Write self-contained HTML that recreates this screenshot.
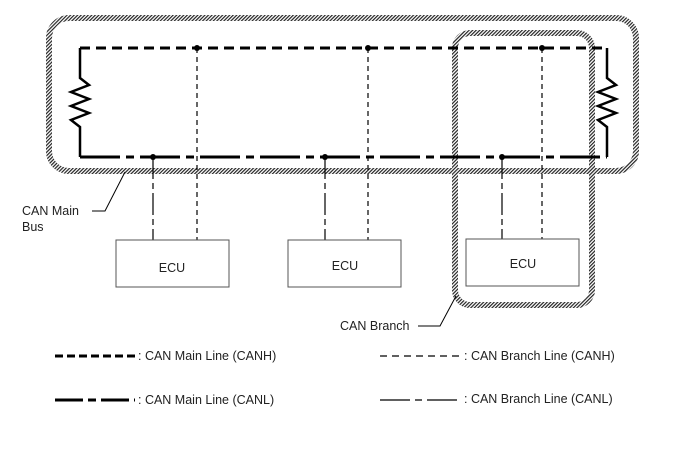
<!DOCTYPE html>
<html><head><style>body{margin:0;background:#fff}svg{display:block}</style></head><body>
<svg width="688" height="463" xmlns="http://www.w3.org/2000/svg" font-family="Liberation Sans, Arial, sans-serif" font-size="12.5">
<defs>
<pattern id="h" width="2.5" height="2.5" patternUnits="userSpaceOnUse" patternTransform="rotate(45)">
<rect width="2.5" height="2.5" fill="#fff"/><rect width="1.2" height="2.5" fill="#222"/>
</pattern>
</defs>
<rect x="49" y="18" width="587" height="153" rx="20" fill="none" stroke="url(#h)" stroke-width="6"/>
<rect x="455" y="33" width="137" height="272" rx="15" fill="none" stroke="url(#h)" stroke-width="6"/>
<g stroke="#000" fill="none">
<line x1="80" y1="48" x2="607" y2="48" stroke-width="3" stroke-dasharray="10,6"/>
<line x1="80" y1="157" x2="607" y2="157" stroke-width="3" stroke-dasharray="40,6,8,6"/>
<polyline stroke-width="2.5" points="80,48 80,78 89,85 71,92 89,99 71,106 89,113 71,120 80,127 80,157"/>
<polyline stroke-width="2.5" points="607,48 607,78 616,85 598,92 616,99 598,106 616,113 598,120 607,127 607,157"/>
<g stroke-width="1.2" stroke-dasharray="5,4">
<line x1="197" y1="48" x2="197" y2="240"/><line x1="368" y1="48" x2="368" y2="240"/><line x1="542" y1="48" x2="542" y2="239"/>
</g>
<g stroke-width="1.2" stroke-dasharray="22,4,6,4">
<line x1="153" y1="157" x2="153" y2="240"/><line x1="325" y1="157" x2="325" y2="240"/><line x1="502" y1="157" x2="502" y2="239"/>
</g>
<g stroke="#555" stroke-width="1">
<rect x="116" y="240" width="113" height="47"/><rect x="288" y="240" width="113" height="47"/><rect x="466" y="239" width="113" height="47"/>
</g>
<polyline stroke-width="1" points="92,211 105,211 125,172"/>
<polyline stroke-width="1" points="418,326 440,326 456,296"/>
<line x1="55" y1="356" x2="135" y2="356" stroke-width="3" stroke-dasharray="8,4"/>
<line x1="55" y1="400" x2="135" y2="400" stroke-width="3" stroke-dasharray="28,5,8,5"/>
<line x1="380" y1="356" x2="460" y2="356" stroke-width="1.2" stroke-dasharray="7,5"/>
<line x1="380" y1="400" x2="460" y2="400" stroke-width="1.2" stroke-dasharray="30,5,7,5"/>
</g>
<g fill="#000">
<circle cx="197" cy="48" r="3"/><circle cx="368" cy="48" r="3"/><circle cx="542" cy="48" r="3"/>
<circle cx="153" cy="157" r="3"/><circle cx="325" cy="157" r="3"/><circle cx="502" cy="157" r="3"/>
</g>
<g fill="#222">
<text x="172" y="272" text-anchor="middle">ECU</text>
<text x="345" y="270" text-anchor="middle">ECU</text>
<text x="523" y="268" text-anchor="middle">ECU</text>
<text x="22" y="215">CAN Main</text>
<text x="22" y="231">Bus</text>
<text x="340" y="330">CAN Branch</text>
<text x="138" y="360">: CAN Main Line (CANH)</text>
<text x="138" y="404">: CAN Main Line (CANL)</text>
<text x="464" y="360">: CAN Branch Line (CANH)</text>
<text x="464" y="403">: CAN Branch Line (CANL)</text>
</g>
</svg>
</body></html>
